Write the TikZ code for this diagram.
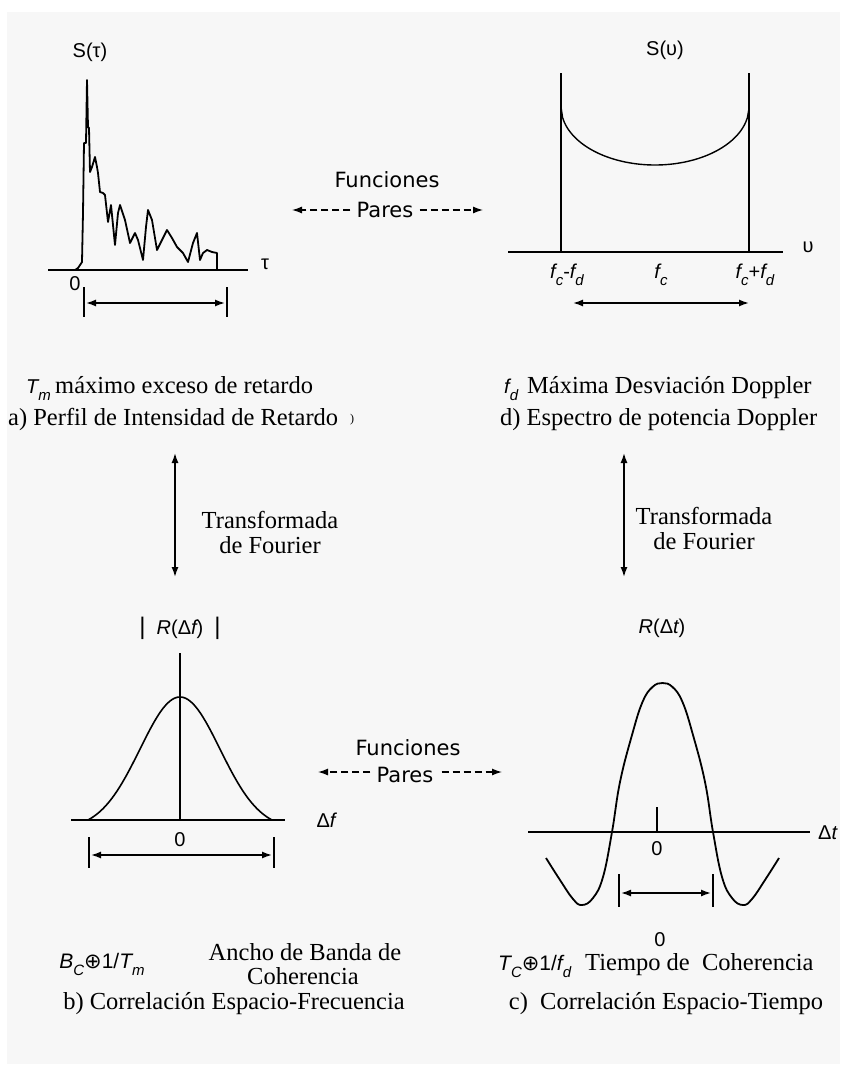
\documentclass[tikz,border=0pt]{standalone}
\usepackage{fontspec}
\setmainfont{Liberation Serif}
\setsansfont{Liberation Sans}
\newfontfamily\dejavu{DejaVu Sans}
\usetikzlibrary{arrows.meta}
\definecolor{bggray}{HTML}{F7F7F7}
\newcommand\lowsub[1]{\raisebox{-0.35em}{\fontsize{15}{15}\selectfont #1}}
\begin{document}
\begin{tikzpicture}[x=1pt,y=-1pt,
  serif/.style={font=\fontsize{24.5}{25}\selectfont\rmfamily, inner sep=0pt, align=center},
  lbl/.style={font=\fontsize{20}{22}\selectfont\sffamily, inner sep=0pt},
  fun/.style={font=\fontsize{21}{24}\selectfont\dejavu, inner sep=0pt},
  axisline/.style={line width=1.5pt},
  curveline/.style={line width=1.8pt, line join=round},
  dimarrow/.style={line width=1.5pt, {Latex[length=10pt,width=7pt]}-{Latex[length=10pt,width=7pt]}},
  dasharrow/.style={line width=1.3pt, dash pattern=on 7pt off 4pt, -{Latex[length=10pt,width=7pt]}}
]
\useasboundingbox (0,0) rectangle (842,1068);
\fill[white] (0,0) rectangle (842,1068);
\fill[bggray] (7,12) rectangle (840,1064);

% ===== Panel a =====
\node[lbl] (Stau) at (90,52) {S(τ)};
\coordinate (aL) at (48,270);
\coordinate (aR) at (248,270);
\draw[axisline] (aL) -- (aR);
\node[lbl] (taulbl) at (265,264) {τ};
\node[lbl] (zeroa) at (75,284) {0};
\draw[curveline] (75,270) -- (78,268) -- (82,262) -- (83,213) -- (84,143) -- (86,143) -- (87,80)
  -- (88,127) -- (89,128) -- (90,172) -- (92,167) -- (95,157) -- (97,167) -- (98,173) -- (100,192)
  -- (103,193) -- (105,195) -- (107,213) -- (108,222) -- (111,205) -- (113,225) -- (115,245)
  -- (118,213) -- (120,205) -- (125,220) -- (130,243) -- (133,237) -- (135,233) -- (138,240)
  -- (143,260) -- (146,227) -- (148,210) -- (152,220) -- (157,250) -- (162,240) -- (167,230)
  -- (172,238) -- (177,247) -- (183,253) -- (188,262) -- (193,243) -- (197,233) -- (200,260)
  -- (203,253) -- (207,250) -- (212,252) -- (217,253) -- (217,270);
\coordinate (aT1) at (84,287); \coordinate (aB1) at (84,317);
\coordinate (aT2) at (227,287); \coordinate (aB2) at (227,317);
\draw[axisline] (aT1) -- (aB1);
\draw[axisline] (aT2) -- (aB2);
\coordinate (aA1) at (86,303); \coordinate (aA2) at (225,303);
\draw[dimarrow] (aA1) -- (aA2);
\node[lbl, anchor=base west] (Tm) at (26,393) {\itshape T\lowsub{m}};
\node[serif, anchor=base west] (Tmtxt) at (55,393) {máximo exceso de retardo};
\node[serif, anchor=base west] (atitle) at (8,425) {a) Perfil de Intensidad de Retardo};
\node[font=\fontsize{12}{12}\selectfont\rmfamily, inner sep=0pt] (stray) at (352,420) {)};

% ===== Panel d =====
\node[lbl] (Snu) at (665,50) {S(υ)};
\coordinate (dL) at (508,252);
\coordinate (dR) at (783,252);
\draw[axisline] (dL) -- (dR);
\node[lbl] (nulbl) at (808,247) {υ};
\coordinate (dv1t) at (561,73); \coordinate (dv1b) at (561,252);
\coordinate (dv2t) at (749,73); \coordinate (dv2b) at (749,252);
\draw[axisline] (dv1t) -- (dv1b);
\draw[axisline] (dv2t) -- (dv2b);
\draw[line width=1.4pt, domain=-1:1, samples=121]
  plot ({655+94*\x}, {252-(87+58*(1-sqrt(max(0,1-\x*\x))))});
\node[lbl, anchor=base] (fcm) at (567,278) {\itshape f\lowsub{c}\upshape-\itshape f\lowsub{d}};
\node[lbl, anchor=base] (fc) at (661,278) {\itshape f\lowsub{c}};
\node[lbl, anchor=base] (fcp) at (755,278) {\itshape f\lowsub{c}\upshape+\itshape f\lowsub{d}};
\coordinate (dA1) at (573,303); \coordinate (dA2) at (749,303);
\draw[dimarrow] (dA1) -- (dA2);
\node[lbl, anchor=base west] (fd) at (504,393) {\itshape f\lowsub{d}};
\node[serif, anchor=base west] (fdtxt) at (527,393) {Máxima Desviación Doppler};
\node[serif, anchor=base west] (dtitle) at (500,425) {d) Espectro de potencia Doppler};

% ===== Funciones Pares (top) =====
\node[fun] (fun1) at (387,180) {Funciones};
\node[fun] (par1) at (385,210) {Pares};
\coordinate (l1tip) at (292,210);
\coordinate (r1tip) at (483,210);
\draw[dasharrow] (par1.west) ++(-6,0) coordinate (l1s) (l1s) -- (l1tip);
\draw[dasharrow] (par1.east) ++(6,0) coordinate (r1s) (r1s) -- (r1tip);

% ===== Fourier arrows =====
\coordinate (fl1) at (175,453); \coordinate (fl2) at (175,577);
\draw[dimarrow] (fl1) -- (fl2);
\node[serif] (ftl) at (270,532) {Transformada\\de Fourier};
\coordinate (fr1) at (624,453); \coordinate (fr2) at (624,577);
\draw[dimarrow] (fr1) -- (fr2);
\node[serif] (ftr) at (704,528) {Transformada\\de Fourier};

% ===== Panel b =====
\node[lbl] (Rdf) at (180,628) {{\fontsize{24}{24}\selectfont|}\ \ \itshape R\upshape(Δ\itshape f\upshape)\ \ {\fontsize{24}{24}\selectfont|}};
\coordinate (bL) at (71,820); \coordinate (bR) at (285,820);
\draw[axisline] (bL) -- (bR);
\coordinate (bvt) at (180,653); \coordinate (bvb) at (180,820);
\draw[axisline] (bvt) -- (bvb);
\draw[line width=1.6pt, domain=-92:92, samples=121]
  plot ({180+\x}, {820-123*(exp(-\x*\x/3200)-0.0710)/(1-0.0710)});
\node[lbl] (dflbl) at (326,820) {Δ\itshape f};
\node[lbl] (zerob) at (180,840) {0};
\coordinate (bT1) at (89,837); \coordinate (bB1) at (89,868);
\coordinate (bT2) at (274,837); \coordinate (bB2) at (274,868);
\draw[axisline] (bT1) -- (bB1);
\draw[axisline] (bT2) -- (bB2);
\coordinate (bA1) at (91,855); \coordinate (bA2) at (272,855);
\draw[dimarrow] (bA1) -- (bA2);
\node[lbl, anchor=base, font=\fontsize{21}{22}\selectfont\sffamily] (BC) at (102,968) {\itshape B\lowsub{C}\upshape{\dejavu ⊕}1/\itshape T\lowsub{m}};
\node[serif, anchor=base] (ancho1) at (305,960) {Ancho de Banda de};
\node[serif, anchor=base] (ancho2) at (303,984) {Coherencia};
\node[serif, anchor=base] (btitle) at (234,1009) {b) Correlación Espacio-Frecuencia};

% ===== Funciones Pares (bottom) =====
\node[fun] (fun2) at (408,748) {Funciones};
\node[fun] (par2) at (405,775) {Pares};
\coordinate (l2tip) at (318,772);
\coordinate (r2tip) at (502,772);
\draw[dasharrow] (par2.west) ++(-6,-3) coordinate (l2s) (l2s) -- (l2tip);
\draw[dasharrow] (par2.east) ++(8,-3) coordinate (r2s) (r2s) -- (r2tip);

% ===== Panel c =====
\node[lbl] (Rdt) at (662,628) {\itshape R\upshape(Δ\itshape t\upshape)};
\coordinate (cL) at (528,832); \coordinate (cR) at (810,832);
\draw[axisline] (cL) -- (cR);
\node[lbl, anchor=west] (dtlbl) at (818,833) {Δ\itshape t};
\coordinate (ctt) at (657,807); \coordinate (ctb) at (657,832);
\draw[axisline] (ctt) -- (ctb);
\node[lbl] (zeroc) at (657,849) {0};
\draw[curveline, smooth, tension=0.7] plot coordinates {
  (546,858) (560,880) (573,899) (582,905) (593,898) (603,877) (612,832) (620,782)
  (632,735) (642.5,702) (652.5,687) (662.5,683) (672.5,687) (682.5,702) (693,735)
  (705,782) (713,832) (722,877) (732,898) (743,905) (752,899) (765,880) (779,858)};
\coordinate (cT1) at (619,874); \coordinate (cB1) at (619,907);
\coordinate (cT2) at (713,874); \coordinate (cB2) at (713,907);
\draw[axisline] (cT1) -- (cB1);
\draw[axisline] (cT2) -- (cB2);
\coordinate (cA1) at (621,893); \coordinate (cA2) at (711,893);
\draw[dimarrow] (cA1) -- (cA2);
\node[lbl] (zerod) at (660,940) {0};
\node[lbl, anchor=base west, font=\fontsize{21}{22}\selectfont\sffamily] (TC) at (498,970) {\itshape T\lowsub{C}\upshape{\dejavu ⊕}1/\itshape f\lowsub{d}};
\node[serif, anchor=base west] (TCtxt) at (585,970) {Tiempo de\ \ Coherencia};
\node[serif, anchor=base] (ctitle) at (666,1009) {c)\ \ Correlación Espacio-Tiempo};
\end{tikzpicture}
\end{document}
